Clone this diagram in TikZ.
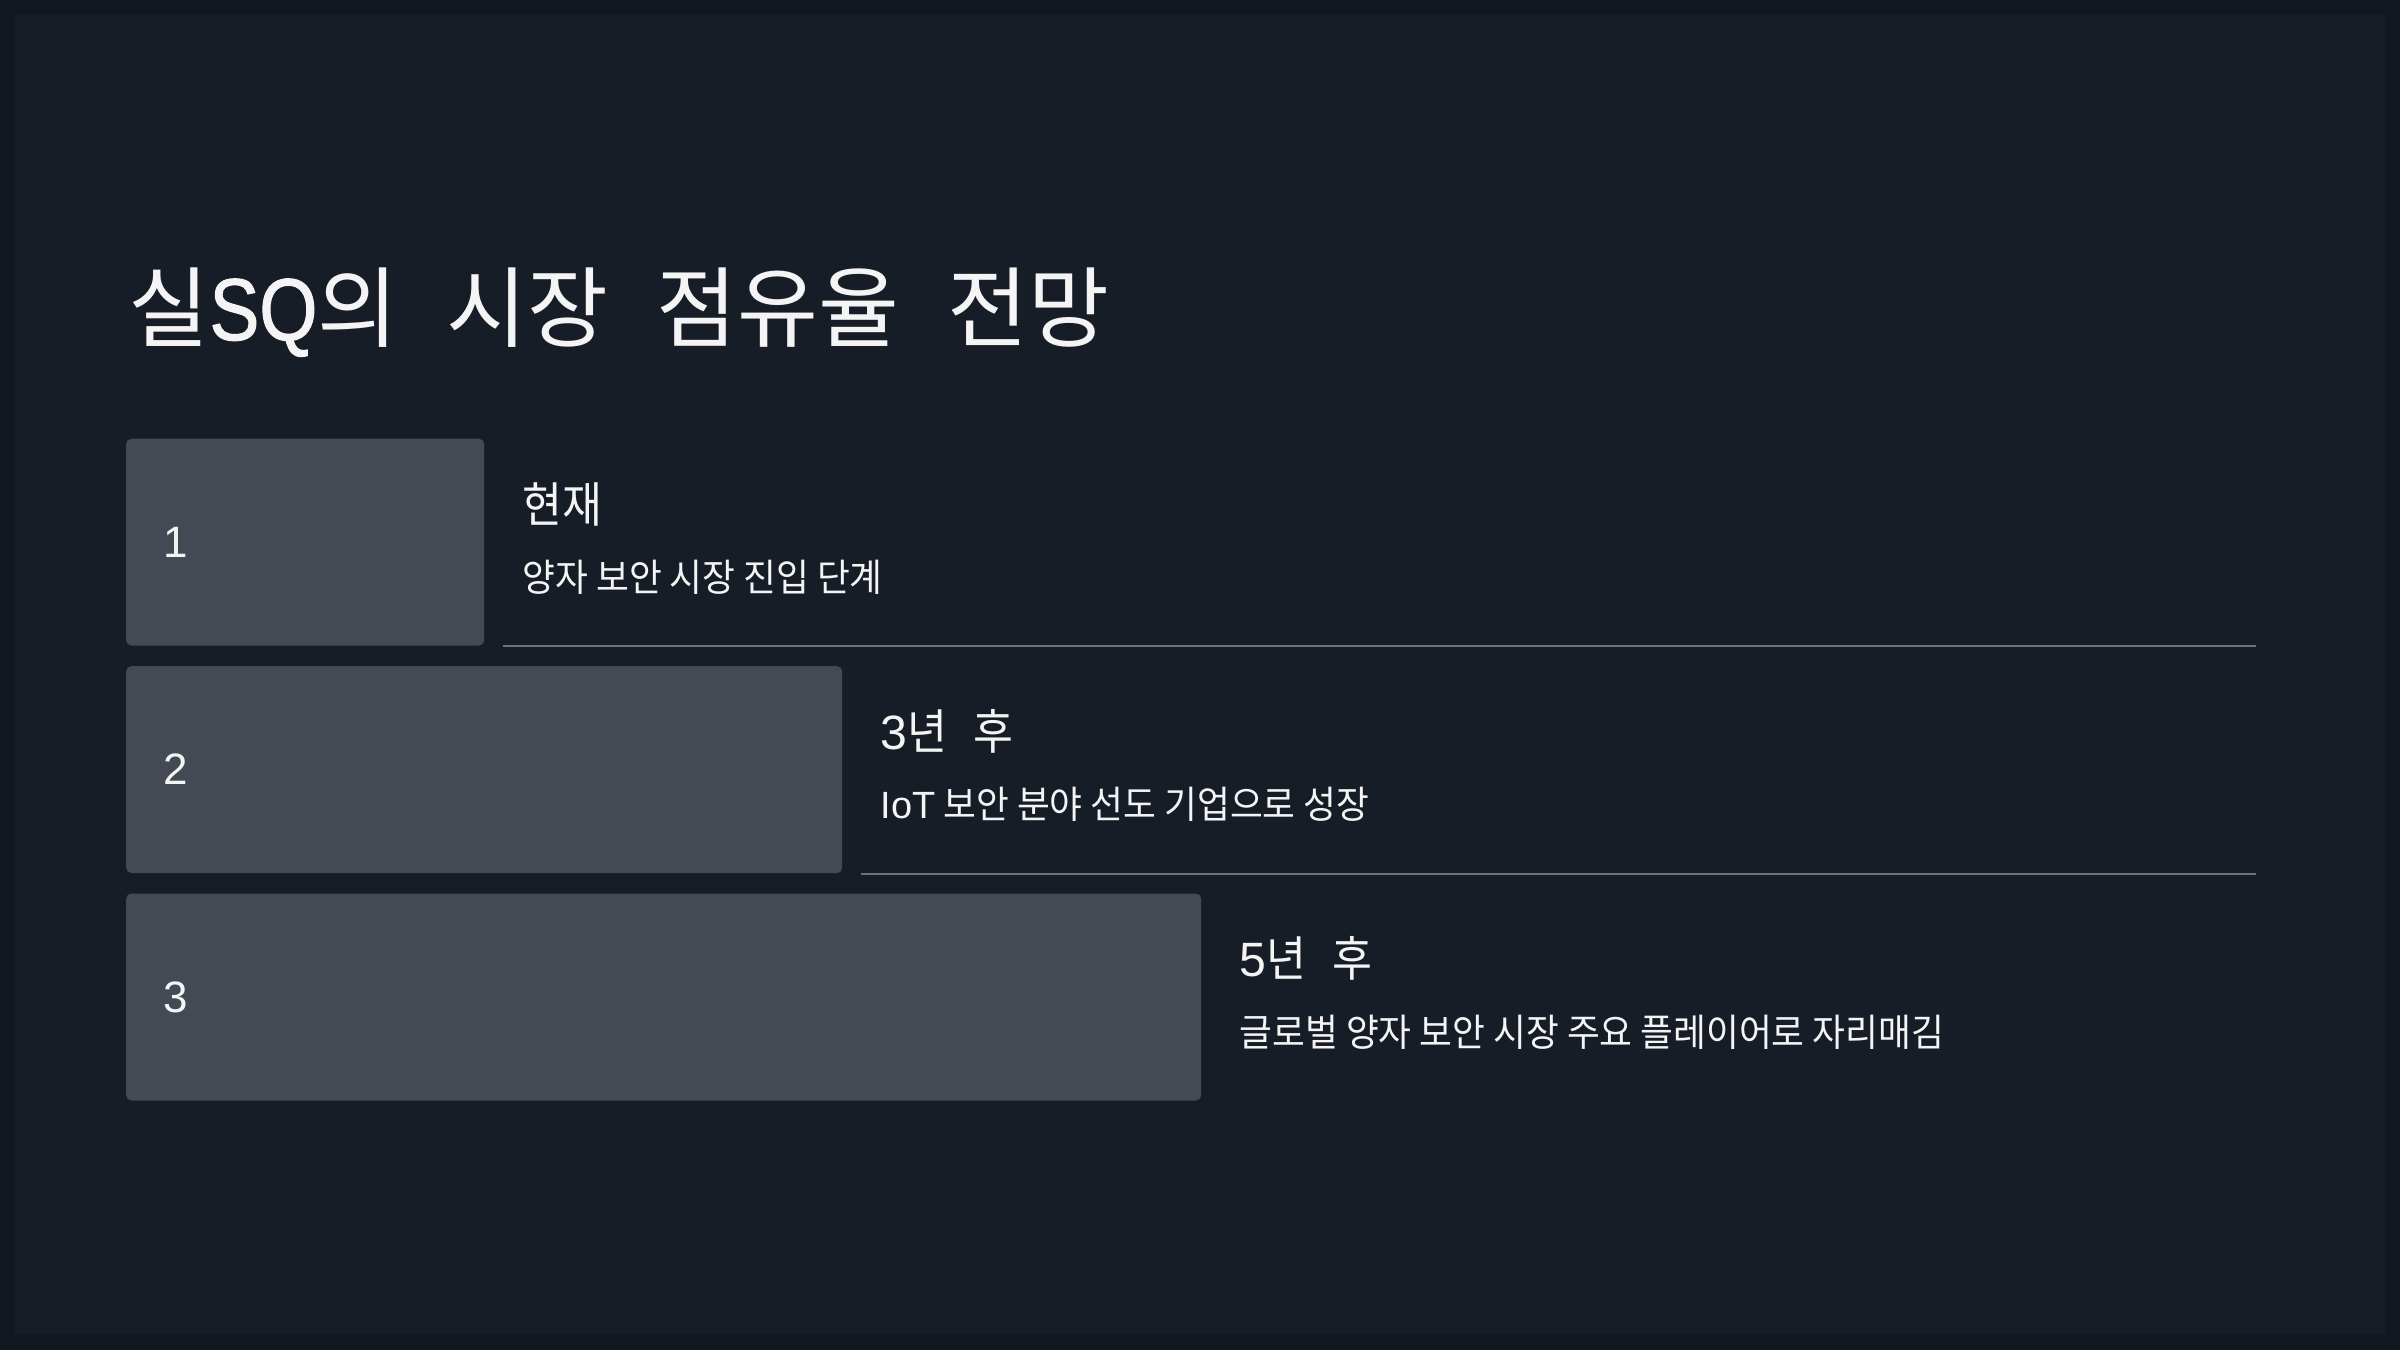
\documentclass[tikz,border=0pt]{standalone}
\usepackage{fontspec}
\setmainfont{Noto Sans CJK KR}
\newfontfamily\headfont{Noto Sans CJK KR}[FakeStretch=0.9]
\newfontfamily\detailfont{Noto Sans CJK KR}[FakeStretch=0.94]
\newfontfamily\latinfont{Liberation Sans}
\newfontfamily\titlelatin{Liberation Sans}[FakeStretch=0.85, FakeBold=1.2]
\usetikzlibrary{positioning}

\definecolor{pagebg}{HTML}{111820}
\definecolor{slidebg}{HTML}{171D27}
\definecolor{barfill}{HTML}{434A53}
\definecolor{rulegray}{HTML}{6B7280}
\definecolor{inkwhite}{HTML}{F4F4F5}

\newcommand{\widegap}{\hspace{0.55em}}
\newcommand{\lat}[1]{{\latinfont #1}}

\tikzset{
  slidetitle/.style={text=inkwhite, anchor=west, inner sep=0pt, font=\fontsize{25}{30}\selectfont},
  bar/.style={fill=barfill, rounded corners=1.5pt, minimum height=2.07cm, inner sep=0pt},
  rank/.style={text=inkwhite, inner sep=0pt, font=\latinfont\fontsize{12.5}{14}\selectfont},
  heading/.style={text=inkwhite, inner sep=0pt, font=\headfont\fontsize{13.7}{16}\selectfont},
  detail/.style={text=inkwhite, inner sep=0pt, font=\detailfont\fontsize{10.8}{13}\selectfont},
  divider/.style={draw=rulegray, line width=0.6pt},
}

\begin{document}
\begin{tikzpicture}
  \fill[pagebg] (0,0) rectangle (24,13.5);
  \fill[slidebg] (0.15,0.15) rectangle (23.85,13.35);
  \useasboundingbox (0,0) rectangle (24,13.5);

  \node[slidetitle] (title) at (1.28,10.38) {실{\titlelatin SQ}의\widegap 시장\widegap 점유율\widegap 전망};

  \node[bar, minimum width=3.58cm, anchor=north west] (bar1) at (1.255,9.12) {};
  \node[bar, minimum width=7.16cm, below right=0.19cm and 0cm of bar1.south west] (bar2) {};
  \node[bar, minimum width=10.75cm, below right=0.19cm and 0cm of bar2.south west] (bar3) {};

  \node[rank, right=0.37cm of bar1.west] (rank1) {1};
  \node[rank, right=0.37cm of bar2.west] (rank2) {2};
  \node[rank, right=0.37cm of bar3.west] (rank3) {3};

  \node[heading, below right=0.66cm and 0.37cm of bar1.north east, anchor=west] (head1) {현재};
  \node[detail, below right=1.39cm and 0.37cm of bar1.north east, anchor=west] (text1) {양자 보안 시장 진입 단계};
  \node[heading, below right=0.66cm and 0.37cm of bar2.north east, anchor=west] (head2) {\lat{3}년\widegap 후};
  \node[detail, below right=1.39cm and 0.37cm of bar2.north east, anchor=west] (text2) {\lat{IoT} 보안 분야 선도 기업으로 성장};
  \node[heading, below right=0.66cm and 0.37cm of bar3.north east, anchor=west] (head3) {\lat{5}년\widegap 후};
  \node[detail, below right=1.39cm and 0.37cm of bar3.north east, anchor=west] (text3) {글로벌 양자 보안 시장 주요 플레이어로 자리매김};

  \coordinate (edge) at (22.56,0);
  \coordinate[right=0.18cm of bar1.south east] (rule1a);
  \coordinate (rule1b) at (bar1.south -| edge);
  \coordinate[right=0.18cm of bar2.south east] (rule2a);
  \coordinate (rule2b) at (bar2.south -| edge);
  \draw[divider] (rule1a) -- (rule1b);
  \draw[divider] (rule2a) -- (rule2b);
\end{tikzpicture}
\end{document}
